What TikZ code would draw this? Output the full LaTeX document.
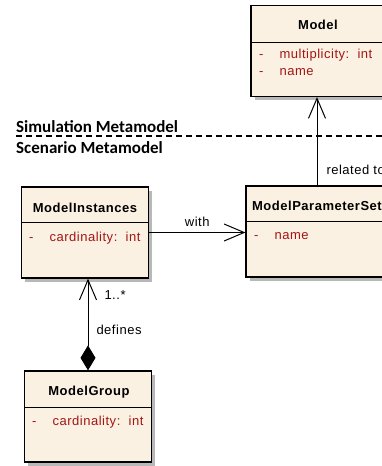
\documentclass[tikz,border=0pt]{standalone}
\usepackage{fontspec}
\setmainfont{Liberation Sans}[LetterSpace=4]
\newfontfamily\labelfont{Carlito}
\usetikzlibrary{arrows.meta, positioning, shadows}
\definecolor{classfill}{RGB}{251,241,226}
\definecolor{attrred}{RGB}{163,21,21}

\begin{document}
\begin{tikzpicture}[x=1pt,y=-1pt,
  cls/.style={rectangle,draw=black,line width=1.2pt,fill=classfill,minimum width=#1,minimum height=91pt,inner sep=0pt,
    drop shadow={shadow xshift=3.5pt,shadow yshift=-3.5pt,fill=black!28,opacity=1}},
  ctitle/.style={font=\fontsize{13}{15}\selectfont\bfseries,inner sep=0pt},
  attr/.style={font=\fontsize{13}{15}\selectfont,text=attrred,anchor=west,inner sep=0pt},
  lbl/.style={font=\fontsize{13}{15}\selectfont,inner sep=0pt},
  pkg/.style={font=\labelfont\fontsize{17}{19}\selectfont\bfseries,anchor=base west,inner sep=0pt},
  divider/.style={line width=1pt},
  pkgline/.style={line width=1.3pt,dash pattern=on 6pt off 4pt},
  assoc/.style={line width=1pt,-{Straight Barb[length=20pt,width=17pt]}},
  comp/.style={line width=1pt,{Diamond[length=25pt,width=15pt]}-{Straight Barb[length=20pt,width=17pt]}}
]
  \useasboundingbox (0,0) rectangle (381,466);

  % package boundary
  \node[pkg](sim)  at (16,132) {Simulation Metamodel};
  \node[pkg](scen) at (16,153) {Scenario Metamodel};
  \draw[pkgline] (16,136) -- (392,136);

  % classes
  \node[cls=134pt](model) at (318,51) {};
  \draw[divider] (model.west |- 0,42) -- (model.east |- 0,42);
  \node[ctitle](modelt) at (318,25) {Model};
  \node[attr](modelm) at (259,55) {-\hspace{16pt}multiplicity:\ \ int};
  \node[attr](modeln) at (259,72) {-\hspace{16pt}name};

  \node[cls=142pt](pset) at (317,231.5) {};
  \draw[divider] (pset.west |- 0,221) -- (pset.east |- 0,221);
  \node[ctitle](psett) at (317,206) {ModelParameterSet};
  \node[attr](psetn) at (254,236) {-\hspace{16pt}name};

  \node[cls=127pt](inst) at (85,232.5) {};
  \draw[divider] (inst.west |- 0,222) -- (inst.east |- 0,222);
  \node[ctitle](instt) at (85,208) {ModelInstances};
  \node[attr](instc) at (29,238) {-\hspace{16pt}cardinality:\ \ int};

  \node[cls=127pt](group) at (88,416.5) {};
  \draw[divider] (group.west |- 0,407) -- (group.east |- 0,407);
  \node[ctitle](groupt) at (89,392) {ModelGroup};
  \node[attr](groupc) at (32,422) {-\hspace{16pt}cardinality:\ \ int};

  % relations
  \draw[assoc] (pset.north) -- node[lbl,pos=0.18,right=9pt]{related to} (pset.north |- model.south);
  \draw[assoc] (inst.east) -- node[lbl,above=5pt]{with} (inst.east -| pset.west);
  \draw[comp] (group.north) -- node[lbl,pos=0.44,right=8pt]{defines}
    node[lbl,pos=0.82,right=16pt]{1..*} (group.north |- inst.south);
\end{tikzpicture}
\end{document}
